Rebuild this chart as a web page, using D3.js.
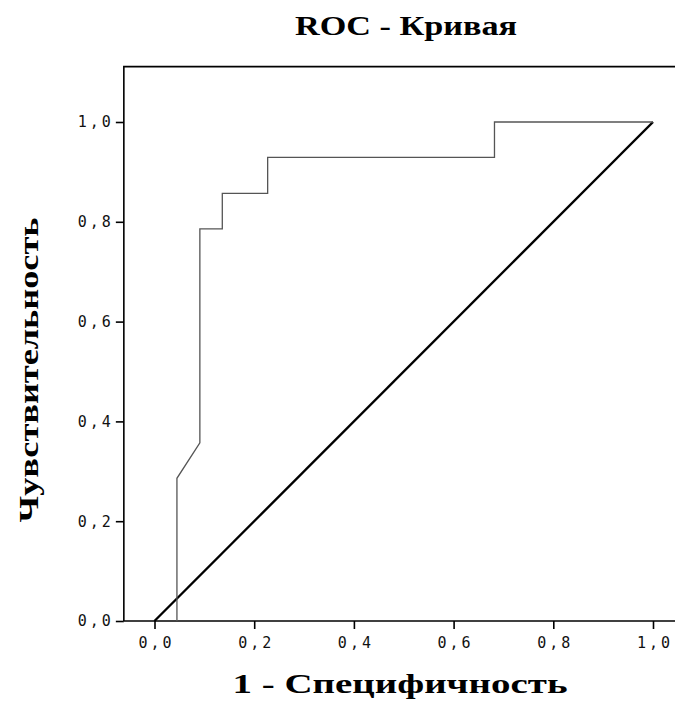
<!DOCTYPE html>
<html>
<head>
<meta charset="utf-8">
<script src="https://cdn.jsdelivr.net/npm/d3@7"></script>
<style>
  body { margin: 0; background: #fff; }
</style>
</head>
<body>
<div id="chart"></div>
<script>
// ROC points (1 - specificity, sensitivity)
const fpr = [0.045, 0.045, 0.091, 0.091, 0.136, 0.136, 0.227, 0.227, 0.682, 0.682, 1.0];
const tpr = [0.0, 0.286, 0.357, 0.786, 0.786, 0.857, 0.857, 0.929, 0.929, 1.0, 1.0];
const refLine = [0, 1];
const ticks = [0, 0.2, 0.4, 0.6, 0.8, 1.0];
const tickLabels = ["0,0", "0,2", "0,4", "0,6", "0,8", "1,0"];

const svg = d3.select("#chart")
    .append("svg")
    .attr("width", 675)
    .attr("height", 704);

svg.append("rect")
    .attr("width", 675)
    .attr("height", 704)
    .attr("fill", "white");

const xScale = d3.scaleLinear().domain([0, 1]).range([154.5, 653]);
const yScale = d3.scaleLinear().domain([0, 1]).range([621, 122]);

// frame (right edge falls outside the image)
const fx0 = xScale(-0.0615), fy0 = yScale(1.111);
svg.append("path")
    .attr("d", `M${fx0},${yScale(0)}V${fy0}H690`)
    .attr("fill", "none")
    .attr("stroke", "#000")
    .attr("stroke-width", 1.6);
svg.append("path")
    .attr("d", `M${fx0},${yScale(0)}H690`)
    .attr("fill", "none")
    .attr("stroke", "#000")
    .attr("stroke-width", 1.6);

const tickFont = g => g.selectAll("text")
    .attr("fill", "#111")
    .style("font-family", "'DejaVu Sans Mono', monospace")
    .style("font-size", "15px")
    .style("letter-spacing", "3px");

// x axis
const xAxis = d3.axisBottom(xScale)
    .tickValues(ticks)
    .tickSize(8)
    .tickFormat((d, i) => tickLabels[i]);
const gx = svg.append("g")
    .attr("transform", `translate(0,${yScale(0)})`)
    .call(xAxis);
gx.select(".domain").remove();
gx.selectAll("line").attr("stroke", "#000").attr("stroke-width", 1.6);
gx.selectAll("text").attr("y", 16).attr("dy", "0.71em").attr("dx", 1.5);
gx.call(tickFont);

// y axis
const yAxis = d3.axisLeft(yScale)
    .tickValues(ticks)
    .tickSize(8)
    .tickFormat((d, i) => tickLabels[i]);
const gy = svg.append("g")
    .attr("transform", `translate(${fx0},0)`)
    .call(yAxis);
gy.select(".domain").remove();
gy.selectAll("line").attr("stroke", "#000").attr("stroke-width", 1.6);
gy.selectAll("text").attr("x", -10);
gy.call(tickFont);

// reference diagonal
const line = d3.line().x(d => xScale(d)).y(d => yScale(d));
svg.append("path")
    .datum(refLine)
    .attr("d", line)
    .attr("fill", "none")
    .attr("stroke", "#000")
    .attr("stroke-width", 2.4);

// ROC curve
const rocData = fpr.map((f, i) => [f, tpr[i]]);
svg.append("path")
    .datum(rocData)
    .attr("d", d3.line().x(d => xScale(d[0])).y(d => yScale(d[1])))
    .attr("fill", "none")
    .attr("stroke", "#555")
    .attr("stroke-width", 1.3);

// titles
svg.append("text")
    .attr("x", 406)
    .attr("y", 35)
    .attr("text-anchor", "middle")
    .attr("textLength", 222)
    .attr("lengthAdjust", "spacingAndGlyphs")
    .style("font-family", "'Liberation Serif', serif")
    .style("font-weight", "bold")
    .style("font-size", "27px")
    .text("ROC - Кривая");

svg.append("text")
    .attr("x", 400)
    .attr("y", 693)
    .attr("text-anchor", "middle")
    .attr("textLength", 335)
    .attr("lengthAdjust", "spacingAndGlyphs")
    .style("font-family", "'Liberation Serif', serif")
    .style("font-weight", "bold")
    .style("font-size", "28px")
    .text("1 - Специфичность");

svg.append("text")
    .attr("transform", "translate(38,370) rotate(-90)")
    .attr("text-anchor", "middle")
    .attr("textLength", 305)
    .attr("lengthAdjust", "spacingAndGlyphs")
    .style("font-family", "'Liberation Serif', serif")
    .style("font-weight", "bold")
    .style("font-size", "28px")
    .text("Чувствительность");
</script>
</body>
</html>
